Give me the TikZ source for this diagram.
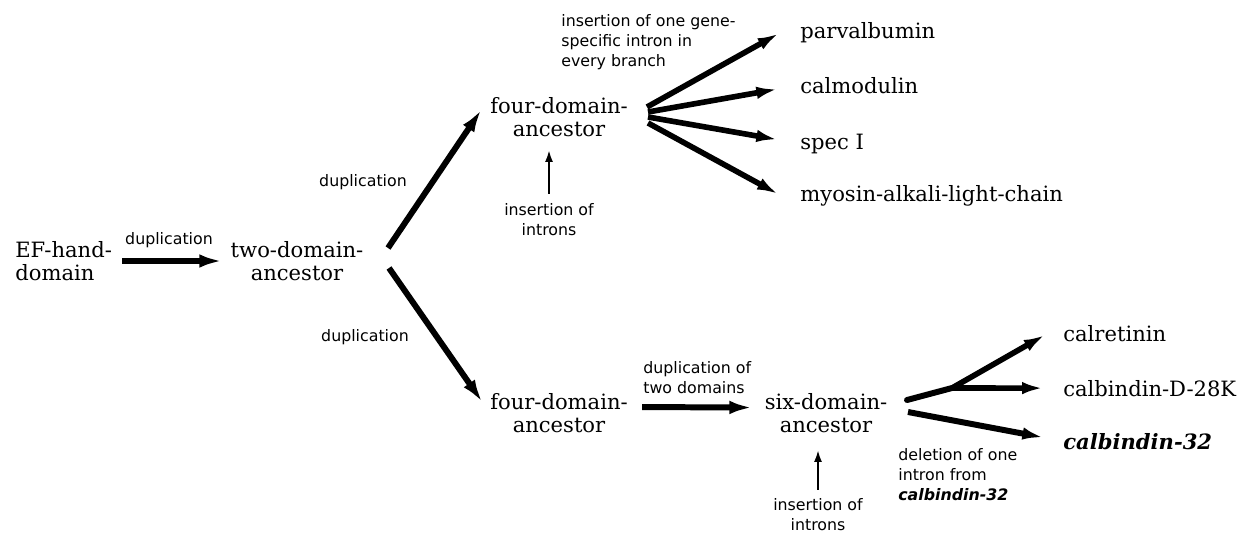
\documentclass[tikz,border=0pt]{standalone}
\usepackage{fontspec}
\setmainfont{DejaVu Serif}
\setsansfont{DejaVu Sans}
\usetikzlibrary{arrows.meta}

\begin{document}
\begin{tikzpicture}[x=0.02cm,y=-0.02cm,
  term/.style={font=\fontsize{12}{13}\selectfont,align=center,inner sep=0pt},
  leaf/.style={font=\fontsize{12}{13}\selectfont,anchor=base west,inner sep=0pt},
  note/.style={font=\sffamily\fontsize{9}{11.3}\selectfont,align=center,inner sep=0pt},
  fat/.style={line width=3.4pt,-{Latex[length=0.46cm,width=0.27cm]}},
  fan/.style={line width=3.2pt,-{Latex[length=0.42cm,width=0.25cm]}},
  thin/.style={line width=1.2pt,-{Latex[length=0.24cm,width=0.16cm]}}]
\useasboundingbox (0,0) rectangle (1250,534);
% ancestors
\node[term,align=left,anchor=west] (ef) at (15,261) {EF-hand-\\domain};
\node[term] (twodom) at (297,261) {two-domain-\\ancestor};
\node[term] (fourup) at (559,117) {four-domain-\\ancestor};
\node[term] (fourlow) at (559,413) {four-domain-\\ancestor};
\node[term] (sixdom) at (826,413) {six-domain-\\ancestor};
% genes
\node[leaf] (parv) at (800,38) {parvalbumin};
\node[leaf] (calm) at (800,93) {calmodulin};
\node[leaf] (spec) at (800,149) {spec I};
\node[leaf] (myosin) at (800,201) {myosin-alkali-light-chain};
\node[leaf] (calret) at (1063,341) {calretinin};
\node[leaf] (calbD) at (1063,396) {calbindin-D-28K};
\node[leaf] (calb32) at (1063,449) {\bfseries\itshape calbindin-32};
% events
\node[note] (dupA) at (169,240) {duplication};
\node[note] (dupB) at (363,182) {duplication};
\node[note] (dupC) at (365,337) {duplication};
\node[note,align=left,anchor=north west] (gene) at (561,14) {insertion of one gene-\\specific intron in\\every branch};
\node[note] (intA) at (549,220) {insertion of\\introns};
\node[note,align=left,anchor=west] (dupTwo) at (643,378) {duplication of\\two domains};
\node[note] (intB) at (818,515) {insertion of\\introns};
\node[note,align=left,anchor=north west] (del) at (898,448) {deletion of one\\intron from\\\textbf{\textit{calbindin-32}}};
% branch points
\coordinate (forkA) at (388,248);
\coordinate (forkB) at (389,268);
\coordinate (fanA) at (647,107);
\coordinate (fanB) at (648,112);
\coordinate (fanC) at (648,117);
\coordinate (fanD) at (648,123);
\coordinate (sixA) at (907,400);
\coordinate (sixB) at (908,412);
\coordinate (split) at (952,388);
% arrows
\draw[fat,shorten <=0.2cm,shorten >=0.16cm] (ef.east) -- (twodom.west);
\draw[fat,shorten >=0.3cm] (forkA) -- (fourup.north west);
\draw[fat,shorten >=0.26cm] (forkB) -- (fourlow.west);
\draw[fat,shorten <=0.28cm,shorten >=0.24cm] (fourlow.5) -- (sixdom.175);
\draw[fan,shorten >=0.49cm] (fanA) -- (parv.north west);
\draw[fan,shorten >=0.46cm] (fanB) -- (calm.west);
\draw[fan,shorten >=0.46cm] (fanC) -- (spec.west);
\draw[fan,shorten >=0.5cm] (fanD) -- (myosin.south west);
\draw[line width=3.4pt,line cap=round] (sixA) -- (split);
\draw[fan,shorten >=0.42cm] (split) -- (calret.north west);
\draw[fan,shorten >=0.4cm] (split) -- (calbD.west);
\draw[fan,line width=3.4pt,shorten >=0.4cm] (sixB) -- (calb32.west);
\draw[thin,shorten <=0.2cm,shorten >=0.26cm] (intA.north) -- (intA.north |- fourup.south);
\draw[thin,shorten <=0.18cm,shorten >=0.34cm] (intB.north) -- (intB.north |- sixdom.south);
\end{tikzpicture}
\end{document}
